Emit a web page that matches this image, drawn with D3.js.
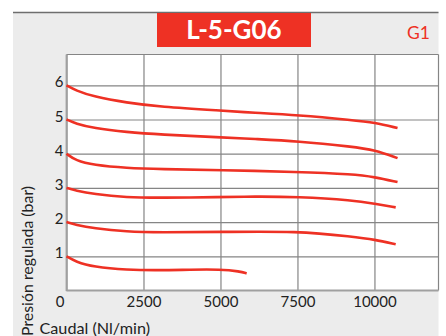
<!DOCTYPE html>
<html><head><meta charset="utf-8">
<script src="https://cdn.jsdelivr.net/npm/d3@7"></script>
<style>body{margin:0;background:#fff}svg{display:block}</style>
</head><body>
<script>
const title = "L-5-G06";
const tag = "G1";
const xTitle = "Caudal (Nl/min)";
const yTitle = "Presión regulada (bar)";
const xTicks = [0, 2500, 5000, 7500, 10000];
const yTicks = [1, 2, 3, 4, 5, 6];

const flow6 = [0, 300, 870, 1955, 3036, 5000, 6066, 7500, 9315, 10000, 10750];
const p6    = [6, 5.85, 5.67, 5.49, 5.37, 5.26, 5.2, 5.13, 4.98, 4.91, 4.75];
const flow5 = [0, 300, 870, 1955, 3036, 5000, 6066, 7500, 9315, 10000, 10750];
const p5    = [5, 4.88, 4.75, 4.63, 4.56, 4.48, 4.43, 4.37, 4.2, 4.11, 3.87];
const flow4 = [0, 300, 870, 1955, 3036, 5000, 7500, 9315, 10000, 10750];
const p4    = [4, 3.8, 3.67, 3.58, 3.55, 3.52, 3.47, 3.4, 3.32, 3.17];
const flow3 = [0, 300, 870, 1955, 3036, 5000, 6066, 7500, 9315, 10000, 10690];
const p3    = [3, 2.92, 2.82, 2.72, 2.71, 2.73, 2.75, 2.74, 2.64, 2.54, 2.43];
const flow2 = [0, 300, 870, 1955, 3036, 5000, 7500, 9315, 10000, 10690];
const p2    = [2, 1.92, 1.82, 1.72, 1.7, 1.71, 1.74, 1.57, 1.49, 1.35];
const flow1 = [0, 300, 870, 1955, 3036, 4000, 5000, 5633, 5850];
const p1    = [1, 0.84, 0.69, 0.6, 0.59, 0.61, 0.62, 0.56, 0.5];

const series = [[flow6,p6],[flow5,p5],[flow4,p4],[flow3,p3],[flow2,p2],[flow1,p1]];

const W = 446, H = 336;
const red = "#ee3124";
const svg = d3.select("body").append("svg").attr("width", W).attr("height", H);

const L = 66.5, R = 438.5, T = 54.5, B = 290.5;
const x = d3.scaleLinear().domain([0, 12080]).range([L, R]);
const y = d3.scaleLinear().domain([0, 6]).range([B, 85.3]);

// panel
svg.append("rect").attr("x", 13).attr("y", 12).attr("width", 425.5).attr("height", H - 12).attr("fill", "#ececec");
svg.append("line").attr("x1", 13).attr("x2", 438.5).attr("y1", 12.5).attr("y2", 12.5)
  .attr("stroke", "#6e6e6e").attr("stroke-width", 1.6);

// title box
svg.append("rect").attr("x", 157).attr("y", 13).attr("width", 154).attr("height", 34).attr("fill", red);
svg.append("text").attr("x", 234).attr("y", 39.3).attr("text-anchor", "middle")
  .attr("font-family", "Lato").attr("font-weight", "bold").attr("font-size", 26).attr("fill", "#fff").text(title);
svg.append("text").attr("x", 430).attr("y", 38.7).attr("text-anchor", "end")
  .attr("font-family", "Lato").attr("font-size", 17.5).attr("fill", red).text(tag);

// plot
svg.append("rect").attr("x", L).attr("y", T).attr("width", R - L).attr("height", B - T).attr("fill", "#fff");

const gx = svg.append("g").attr("transform", `translate(0,${B})`)
  .call(d3.axisBottom(x).tickValues(xTicks).tickSize(-(B - T)).tickFormat(d3.format("d")));
const gy = svg.append("g").attr("transform", `translate(${L},0)`)
  .call(d3.axisLeft(y).tickValues(yTicks).tickSize(-(R - L)).tickFormat(d3.format("d")));
[gx, gy].forEach(g => {
  g.select(".domain").remove();
  g.selectAll(".tick line").attr("stroke", "#858585").attr("stroke-width", 1.2);
  g.selectAll(".tick text").attr("font-family", "Lato").attr("font-size", 15).attr("fill", "#222");
});
gx.selectAll(".tick text").attr("dy", 0).attr("y", 16);
gx.selectAll(".tick text").filter(d => d === 0).attr("dx", -7);
gy.selectAll(".tick text").attr("x", -3).attr("dy", "0.1em");

// borders
svg.append("line").attr("x1", L).attr("x2", R).attr("y1", T).attr("y2", T).attr("stroke", "#858585").attr("stroke-width", 1.2);
svg.append("line").attr("x1", R).attr("x2", R).attr("y1", T).attr("y2", B).attr("stroke", "#858585").attr("stroke-width", 1.2);
svg.append("line").attr("x1", L).attr("x2", L).attr("y1", T).attr("y2", B + 0.6).attr("stroke", "#a0a0a0").attr("stroke-width", 1.8);
svg.append("line").attr("x1", L).attr("x2", R).attr("y1", B).attr("y2", B).attr("stroke", "#a0a0a0").attr("stroke-width", 1.8);

// curves
const line = d3.line().x(d => x(d[0])).y(d => y(d[1])).curve(d3.curveBasis);
series.forEach(([fx, py]) => {
  svg.append("path").datum(fx.map((v, i) => [v, py[i]])).attr("d", line)
    .attr("fill", "none").attr("stroke", red).attr("stroke-width", 2.6).attr("stroke-linecap", "butt");
});

// axis titles
svg.append("text").attr("x", 39.5).attr("y", 334).attr("font-family", "Lato").attr("font-size", 16.2).attr("fill", "#222").text(xTitle);
svg.append("text").attr("transform", "translate(33.3,336) rotate(-90)").attr("font-family", "Lato").attr("font-size", 15.9).attr("fill", "#222").text(yTitle);
</script>
</body></html>
